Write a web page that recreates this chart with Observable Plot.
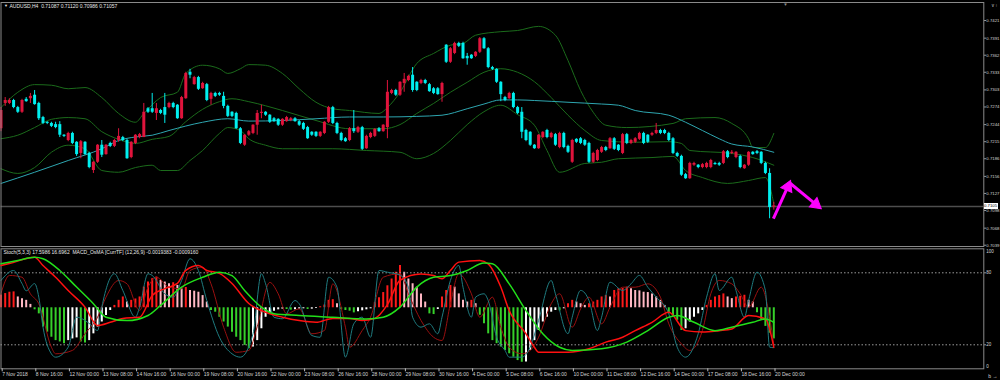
<!DOCTYPE html>
<html><head><meta charset="utf-8">
<script src="https://cdn.jsdelivr.net/npm/d3@7"></script>
<script src="https://cdn.jsdelivr.net/npm/@observablehq/plot@0.6"></script>
<style>
html,body{margin:0;padding:0;background:#000;}
#wrap{position:relative;width:1000px;height:380px;background:#000;overflow:hidden;}
#wrap svg{position:absolute;left:0;top:0;}
#cur{position:absolute;background:#fff;color:#000;font:4.3px "Liberation Sans",Arial,sans-serif;line-height:6px;height:6px;padding:0 0.5px;}
</style></head><body><div id="wrap"></div>
<script>
// ---------- DATA (prices in points: price x 10 000) ----------
const openPts = [7237,7280,7280,7285,7273,7265,7287,7288,7294,7280,
7256,7248,7246,7244,7244,7226,7217,7229,7214,7195,
7214,7195,7166,7180,7209,7193,7212,7207,7217,7222,
7217,7188,7212,7222,7222,7271,7271,7263,7268,7273,
7273,7280,7277,7254,7288,7333,7312,7324,7305,7312,
7287,7297,7297,7292,7275,7265,7263,7237,7209,7226,
7229,7243,7263,7265,7260,7254,7253,7243,7249,7251,
7254,7249,7246,7239,7231,7231,7224,7229,7248,7273,
7246,7229,7220,7217,7237,7231,7239,7203,7222,7224,
7237,7232,7239,7297,7302,7294,7314,7319,7328,7316,
7314,7319,7312,7305,7305,7295,7379,7350,7365,7382,
7382,7360,7362,7360,7367,7390,7373,7341,7338,7316,
7290,7288,7297,7273,7265,7234,7231,7209,7203,7222,
7234,7222,7227,7205,7229,7207,7180,7219,7220,7217,
7212,7180,7183,7197,7205,7203,7220,7209,7195,7227,
7212,7214,7219,7229,7226,7226,7229,7234,7234,7229,
7220,7195,7190,7159,7152,7175,7175,7171,7171,7171,
7178,7178,7178,7198,7195,7188,7190,7169,7175,7197,
7198,7197,7178,7161,7104];
const highPts = [7273,7290,7288,7287,7275,7287,7290,7297,7302,7282,
7258,7249,7248,7248,7249,7227,7231,7231,7215,7217,
7215,7197,7181,7210,7217,7210,7214,7219,7237,7224,
7219,7215,7227,7229,7280,7273,7297,7280,7270,7297,
7282,7282,7278,7292,7333,7338,7326,7326,7316,7314,
7299,7299,7299,7299,7277,7266,7265,7239,7227,7234,
7244,7268,7277,7266,7261,7256,7254,7254,7258,7256,
7256,7251,7248,7241,7232,7232,7232,7249,7275,7275,
7248,7231,7222,7239,7268,7241,7241,7226,7231,7237,
7239,7244,7319,7304,7304,7317,7331,7328,7341,7317,
7321,7321,7314,7307,7307,7316,7380,7375,7384,7384,
7384,7365,7363,7368,7392,7392,7375,7343,7339,7317,
7292,7299,7299,7275,7273,7236,7232,7210,7227,7232,
7236,7231,7229,7231,7231,7209,7219,7220,7222,7219,
7214,7197,7202,7207,7207,7222,7222,7210,7229,7229,
7219,7222,7231,7231,7227,7231,7246,7236,7236,7231,
7222,7197,7192,7161,7180,7180,7176,7178,7180,7185,
7180,7180,7200,7200,7200,7198,7192,7176,7198,7198,
7200,7198,7180,7169,7112];
const lowPts = [7232,7275,7278,7271,7263,7263,7282,7280,7277,7251,
7244,7244,7239,7237,7222,7222,7215,7210,7190,7186,
7192,7169,7161,7178,7188,7192,7205,7205,7214,7215,
7185,7186,7210,7220,7222,7263,7263,7251,7261,7246,
7271,7271,7253,7253,7287,7322,7311,7302,7304,7283,
7277,7290,7292,7271,7256,7256,7236,7210,7207,7224,
7227,7226,7254,7258,7246,7248,7241,7241,7248,7249,
7248,7241,7234,7219,7224,7222,7222,7227,7246,7244,
7227,7215,7214,7215,7229,7229,7200,7202,7220,7222,
7231,7231,7220,7295,7292,7292,7299,7317,7299,7300,
7312,7312,7299,7295,7294,7282,7348,7348,7363,7375,
7355,7345,7355,7358,7365,7372,7339,7336,7314,7283,
7283,7287,7271,7261,7220,7215,7207,7202,7202,7220,
7220,7220,7207,7203,7203,7195,7178,7212,7210,7207,
7178,7178,7181,7195,7198,7202,7200,7198,7193,7210,
7210,7212,7217,7210,7212,7224,7227,7227,7227,7215,
7193,7188,7156,7151,7151,7173,7169,7169,7169,7169,
7175,7173,7176,7186,7193,7186,7169,7168,7173,7192,
7193,7176,7159,7084,7098.6];
const closePts = [7268,7285,7285,7273,7265,7285,7283,7292,7278,7254,
7246,7246,7241,7239,7226,7224,7229,7212,7193,7215,
7193,7171,7180,7209,7192,7209,7207,7217,7224,7217,
7186,7214,7226,7227,7265,7265,7265,7271,7263,7260,
7280,7273,7254,7290,7331,7328,7324,7304,7314,7285,
7297,7292,7294,7275,7258,7258,7237,7212,7226,7232,
7243,7263,7265,7260,7248,7249,7243,7253,7256,7254,
7249,7243,7236,7220,7226,7224,7231,7248,7273,7246,
7229,7217,7215,7237,7232,7239,7202,7224,7229,7236,
7232,7243,7299,7302,7294,7316,7321,7326,7302,7302,
7319,7314,7300,7297,7295,7314,7350,7373,7382,7377,
7356,7356,7356,7367,7390,7373,7341,7338,7316,7295,
7285,7297,7273,7263,7231,7217,7209,7203,7226,7231,
7222,7229,7209,7229,7205,7197,7217,7214,7212,7209,
7180,7195,7200,7205,7200,7220,7202,7200,7227,7212,
7217,7220,7229,7212,7214,7229,7234,7229,7229,7217,
7195,7190,7158,7152,7178,7178,7171,7176,7178,7183,
7176,7175,7198,7188,7197,7197,7171,7175,7197,7193,
7195,7178,7161,7103,7105.7];
const currentPrice = 0.7105;

// Bollinger bands (20,2) and slow moving average, read at bar positions
const upperBar = [0,4,8,12,16,20,24,28,32,34,38,42,44,48,52,54,57,59,63,67,71,75,79,83,90,92,95,99,103,107,110,113,119,123,128,132,135,138,141,144,149,160,163,170,174,178,179,182,184];
const upperPts = [7273,7299,7312,7311,7305,7307,7290,7263,7248,7263,7290,7299,7331,7345,7339,7331,7339,7346,7345,7331,7305,7282,7271,7268,7263,7273,7299,7348,7365,7379,7382,7396,7402,7404,7411,7396,7353,7302,7265,7243,7239,7246,7254,7256,7246,7220,7205,7205,7229];
const middleBar = [0,4,8,12,16,20,24,28,32,36,40,44,48,52,55,59,67,75,83,91,95,99,103,107,111,115,119,123,127,131,135,139,143,151,159,162,164,174,179,184];
const middlePts = [7220,7226,7239,7253,7256,7254,7232,7219,7212,7219,7224,7249,7270,7283,7288,7283,7268,7251,7237,7237,7244,7263,7280,7299,7316,7333,7339,7333,7317,7290,7260,7234,7217,7214,7215,7212,7200,7195,7188,7175];
const lowerBar = [0,4,8,12,16,20,24,28,32,36,38,42,45,48,52,54,57,59,63,67,71,79,87,95,99,103,107,111,115,119,123,127,130,133,139,143,147,155,160,163,167,173,178,182,184];
const lowerPts = [7169,7161,7171,7197,7209,7203,7166,7163,7171,7175,7166,7166,7183,7200,7229,7239,7234,7220,7209,7203,7203,7203,7200,7197,7186,7195,7217,7244,7266,7277,7261,7243,7200,7163,7178,7180,7186,7188,7190,7166,7154,7144,7149,7154,7110];
const maBar = [0,8,16,24,28,32,36,40,48,54,59,67,75,83,91,99,105,111,115,119,123,127,135,143,147,151,159,163,167,171,174,179,184];
const maPts = [7144,7163,7183,7203,7217,7223,7226,7234,7248,7254,7250,7251,7254,7257,7257,7258,7260,7271,7279,7286,7286,7285,7282,7279,7277,7268,7260,7248,7234,7220,7211,7206,7197];

// Hand-drawn arrows (bar position, price)
const arrowX1 = [183.9, 187.6], arrowY1 = [0.7084, 0.7146];
const arrowX2 = [188.0, 195.3], arrowY2 = [0.7149, 0.7101];

// Price axis ticks
const priceTicks = [0.7421,0.7391,0.7362,0.7333,0.7303,0.7274,0.7244,0.7215,0.7186,0.7156,0.7127,0.7098,0.7068,0.7039];

// Time axis
const dateBars = [0,8,16,24,32,40,48,56,64,72,80,88,96,104,112,120,128,136,144,152,160,168,176,184];
const dateLabels = ["7 Nov 2018","8 Nov 16:00","12 Nov 00:00","13 Nov 08:00","14 Nov 16:00","16 Nov 00:00","19 Nov 08:00","20 Nov 16:00","22 Nov 00:00","23 Nov 08:00","26 Nov 16:00","28 Nov 00:00","29 Nov 08:00","30 Nov 16:00","4 Dec 00:00","5 Dec 08:00","6 Dec 16:00","10 Dec 00:00","11 Dec 08:00","12 Dec 16:00","14 Dec 00:00","17 Dec 08:00","18 Dec 16:00","20 Dec 00:00"];

// Stochastic (5,3,3)
const kBar = [0,3,5,6,8,9,10,12,13,16,18,21,23,24,27,29,32,33,35,36,39,41,43,45,47,49,52,55,57,60,62,63,65,67,70,71,74,76,78,80,82,84,86,88,90,92,95,97,98,100,102,104,105,107,109,110,112,113,115,116,118,120,121,124,126,128,131,132,135,136,138,140,142,143,145,148,150,152,154,156,159,161,163,166,168,170,171,174,175,177,178,180,182,183,184];
const kVal = [73.6,81.9,71,65,71,59.7,34.7,12.5,9.7,18,43,37.8,31.9,51.3,79.2,65.3,43,51.3,79.2,77.8,62.5,59.7,73.6,91.7,81.9,56.9,26.3,12.5,9.7,29.2,79.2,70.8,43,41.7,56.9,54.2,27.8,26.3,76.3,68,9.7,37.5,43,26.3,81.9,80.5,78,68,43,34.7,37.5,29.2,43,73.6,86.1,68,43,59.7,62.5,56.9,26.3,15.3,9.7,9.7,18,40.3,73.6,62.5,29.2,43,65.3,56.9,31.9,43,72.2,65.3,70.8,77.8,68,59.7,45.8,18,9.7,29.2,59.7,79.2,65.3,76.3,65.3,43,56.9,80.5,65.3,18,17.6];
const dBar = [0,2,5,7,9,12,13,17,20,23,25,28,30,33,35,37,40,43,45,48,50,53,56,59,61,64,66,68,71,74,77,79,82,83,86,88,91,95,97,100,103,105,107,109,112,114,117,119,121,124,126,128,131,133,136,138,140,143,145,148,151,154,157,159,162,164,167,169,171,174,176,178,181,183,184];
const dVal = [62.8,77.8,76.3,62.5,54.2,18,12.5,15.3,29.2,43,59.7,73.6,70.8,48.6,68,76.3,68,66.7,81.9,84.7,70.8,34.7,13.8,15.3,35,72,62.5,45.8,50,29.2,31.9,70.8,34.7,18,31.9,43,76.3,79.2,62.5,40.3,26.3,23.6,54.2,79.2,62.5,43,59.7,34.7,18,12.5,15.3,26.3,54.2,62.5,34.7,50,59.7,37.5,51.3,68,68,70.8,59.7,37.5,20.8,15.3,31.9,62.5,73.6,70.8,62.5,51.3,68,43,20];

// MACD OsMA (12,26,9): histogram and two lines, in pips (x 0.0001)
const osma = [3.8,4.2,4.6,4.7,3.2,2.7,2.2,1.0,
-0.6,-1.8,-5.7,-7.2,-8.7,-9.7,-10.1,-10.6,
-9.7,-9.2,-8.9,-10.1,-10.4,
-9.7,-7.7,-5.7,-4.2,-2.3,-0.8,
0.7,2.2,3.2,1.7,2.2,2.6,3.2,6.1,7.6,8.6,9.1,
8.1,7.6,7.1,7.4,6.6,5.6,6.0,5.1,4.9,4.6,3.6,1.7,
-0.8,-1.3,-2.8,-4.2,-5.7,-7.2,-8.7,-9.7,-11.1,-12.1,
-11.6,-9.7,-6.2,-2.8,-1.8,-1.0,-0.6,-0.4,
-0.5,-0.7,-0.6,-0.4,-0.3,-0.5,-0.4,-0.2,0.3,0.8,
2.2,2.4,1.2,
-0.5,-0.8,-1.0,
-1.5,-1.2,-0.9,-0.6,-0.3,
1.5,3.0,4.5,6.5,8.5,10.5,
12.5,
10.5,8.5,7.1,6.1,4.1,1.7,
-1.8,-2.0,-0.5,
3.2,5.1,6.6,
6.1,4.1,2.2,1.7,2.2,1.2,
-2.2,-4.7,-7.7,-9.7,-10.6,-11.6,-12.6,-13.6,-14.6,-15.6,-16.1,
-16.0,-12.6,-9.7,-6.7,-4.2,-2.8,-1.3,-0.8,
-0.9,-0.3,
1.2,2.2,1.7,1.2,0.7,1.2,1.7,2.2,3.2,3.6,3.2,
5.1,5.6,5.7,6.1,5.6,5.1,5.0,4.6,4.5,4.1,3.2,2.2,0.7,
-1.8,-2.8,-3.7,
-6.7,-6.2,-4.2,-2.8,-1.8,-0.8,
0.7,2.2,3.2,3.6,4.1,3.2,2.7,3.2,3.4,3.7,
2.2,1.7,
-1.5,-3.5,-5.5,-7.5,-9.2];
const macdBar = [0,2,8,10,13,16,20,23,26,29,33,36,39,42,44,47,49,52,55,59,63,67,71,75,79,83,86,89,92,95,100,103,105,107,109,114,116,119,121,125,127,128,135,140,144,148,151,155,159,163,167,171,174,178,182,184];
const macdVal = [14,14.8,17.4,14,9.2,3.8,-3,-10.5,-9.2,-7.6,-7.1,1.8,4.6,6.7,12,14,12,10.8,6.7,-1.5,-5.1,-7.1,-8.5,-9.2,-7.6,-7.6,-8.5,-7.6,-2,8,10.6,9.9,8.6,12,15.4,16.1,14.7,5.2,-4.4,-13.9,-19.4,-21.4,-21.4,-20,-17.3,-15.3,-12.6,-9.2,-5.1,-12.6,-13.2,-12.6,-11.9,-6.4,-7.8,-19.4];
const signalBar = [0,4,8,10,14,18,22,25,30,35,38,43,48,52,55,58,62,65,71,79,87,91,95,99,103,107,111,115,117,121,125,129,133,136,143,149,154,159,161,165,170,174,179,182,184];
const signalVal = [14.7,16.1,17.4,16.8,12,5.2,-1.6,-7.1,-8.5,-6.4,-2.3,5.2,9.2,11.3,9.9,3.8,-3,-5.7,-6.4,-7.1,-7.8,-7.1,-3,5.2,9.2,9.9,12,15,14.7,6.5,-4.4,-13.9,-19.4,-20.7,-20,-17.3,-12.6,-7.1,-6.4,-9.2,-12.6,-11.2,-9.2,-7.8,-9.2];

const headerTop = "AUDUSD,H4  0.71087 0.71120 0.70986 0.71057";
const headerLow = "Stoch(5,3,3) 17.5986 16.6962  MACD_OsMA [CurrTF] (12,26,9) -0.0019383 -0.0009160";

// ---------- BUILD ----------
const P = v => v / 10000;
const candles = openPts.map((o, i) => ({i, o: P(o), h: P(highPts[i]), l: P(lowPts[i]), c: P(closePts[i])}));
const RED = "#e0143c", CYAN = "#00efef";
const cCol = d => d.c >= d.o ? RED : CYAN;
const pts = (bars, vals, f = v => v) => bars.map((b, i) => ({b, v: f(vals[i])}));
const arrows = arrowX1.map((x, i) => ({x1: x, y1: arrowY1[i], x2: arrowX2[i], y2: arrowY2[i]}));

const FONT = "Liberation Sans, Arial, sans-serif";
const base = {
  width: 1000, height: 380, marginLeft: 0.5, marginRight: 16.7,
  style: {background: "transparent", color: "#d6d6d6", fontFamily: FONT, fontSize: "5px"},
  color: {type: "identity"}
};
const xDom = {domain: [0, 234], axis: null};
const yPrice = {domain: [0.70368, 0.74516], axis: null};
const GRID = "#8a8a8a";
const BAND = "#1b6b1b";
const MAGENTA = "#ff00ff";
const HEAD_R = 4.5;

const wrap = document.getElementById("wrap");

// ---- price panel ----
const pricePlot = Plot.plot({
  ...base, marginTop: 2, marginBottom: 134,
  x: xDom, y: yPrice,
  marks: [
    Plot.ruleY([currentPrice], {stroke: "#4e4e4e", strokeWidth: 1.5}),
    Plot.line(pts(upperBar, upperPts, P), {x: "b", y: "v", stroke: BAND, strokeWidth: 1, curve: "monotone-x"}),
    Plot.line(pts(middleBar, middlePts, P), {x: "b", y: "v", stroke: BAND, strokeWidth: 1, curve: "monotone-x"}),
    Plot.line(pts(lowerBar, lowerPts, P), {x: "b", y: "v", stroke: BAND, strokeWidth: 1, curve: "monotone-x"}),
    Plot.line(pts(maBar, maPts, P), {x: "b", y: "v", stroke: "#2ea6b0", strokeWidth: 1, curve: "monotone-x"}),
    Plot.ruleX(candles, {x: "i", y1: "l", y2: "h", stroke: cCol, strokeWidth: 1}),
    Plot.ruleX(candles, {x: "i", y1: "o", y2: "c", stroke: cCol, strokeWidth: 3}),
    Plot.frame({stroke: GRID}),
    Plot.axisY(priceTicks, {anchor: "right", tickSize: 1.5, tickPadding: 1, tickFormat: d => d.toFixed(4), fontSize: 4.3, stroke: "#bdbdbd", fill: "#d6d6d6"}),
    Plot.text(["\u25BC"], {frameAnchor: "top-left", dx: 3, dy: 2, lineAnchor: "top", fontSize: 4, fill: "#e8e8e8"}),
    Plot.text([headerTop], {frameAnchor: "top-left", dx: 8.5, dy: 2, lineAnchor: "top", textAnchor: "start", fontSize: 5, fill: "#e8e8e8"}),
    Plot.text(["\u25BC"], {x: () => 186.8, frameAnchor: "top", dy: 0.5, lineAnchor: "top", fontSize: 4.5, fill: "#8a8a8a"})
  ]
});
wrap.appendChild(pricePlot);

// magenta arrows: shaft plus filled head whose tip sits on the arrow end,
// oriented and placed with the plot's own scales
const sx = pricePlot.scale("x"), sy = pricePlot.scale("y");
const tipOffset = 2 * Math.sqrt(Math.PI * HEAD_R * HEAD_R / (Math.sqrt(3) * 3));
const heads = arrows.map(a => {
  const X1 = sx.apply(a.x1), Y1 = sy.apply(a.y1), X2 = sx.apply(a.x2), Y2 = sy.apply(a.y2);
  const len = Math.hypot(X2 - X1, Y2 - Y1), ux = (X2 - X1) / len, uy = (Y2 - Y1) / len;
  return {
    x: sx.invert(X2 - ux * tipOffset), y: sy.invert(Y2 - uy * tipOffset),
    rot: Math.atan2(ux, -uy) * 180 / Math.PI
  };
});
const headPlot = Plot.plot({
  ...base, marginTop: 2, marginBottom: 134,
  x: xDom, y: yPrice,
  marks: [
    Plot.link(arrows, {x1: "x1", y1: "y1", x2: (d, i) => heads[i].x, y2: (d, i) => heads[i].y, stroke: MAGENTA, strokeWidth: 3}),
    Plot.dot(heads, {x: "x", y: "y", rotate: "rot", symbol: "triangle", r: HEAD_R, fill: MAGENTA, stroke: MAGENTA, strokeWidth: 1})
  ]
});
wrap.appendChild(headPlot);

// ---- lower panel: histogram layer ----
const hist = osma.map((v, i) => {
  const p = i > 0 ? osma[i - 1] : v;
  const col = v >= 0 ? (v >= p ? "#ff1a1a" : "#ffb8c4") : (v <= p ? "#36d02a" : "#ffffff");
  return {i, v, col};
});
const lowA = Plot.plot({
  ...base, marginTop: 248.3, marginBottom: 11.7,
  x: xDom,
  y: {domain: [-18.03, 17.43], axis: null},
  marks: [
    Plot.ruleX(hist, {x: "i", y1: 0, y2: "v", stroke: "col", strokeWidth: 2})
  ]
});
wrap.appendChild(lowA);

// ---- lower panel: stochastic layer with frame and axes ----
const lowB = Plot.plot({
  ...base, marginTop: 248.3, marginBottom: 11.7,
  x: xDom,
  y: {domain: [0, 100], axis: null},
  marks: [
    Plot.ruleY([80, 20], {stroke: "#9a9a9a", strokeDasharray: "1.5,2", strokeWidth: 1}),
    Plot.line(pts(dBar, dVal), {x: "b", y: "v", stroke: "#9a1010", strokeWidth: 1, curve: "monotone-x"}),
    Plot.line(pts(kBar, kVal), {x: "b", y: "v", stroke: "#1f7c80", strokeWidth: 1, curve: "monotone-x"}),
    Plot.frame({stroke: GRID}),
    Plot.axisY([80, 20], {anchor: "right", tickSize: 1.5, tickPadding: 1, fontSize: 4.5, stroke: "#bdbdbd", fill: "#d6d6d6"}),
    Plot.text(["100"], {frameAnchor: "top-right", dx: 2.5, dy: 1, lineAnchor: "top", textAnchor: "start", fontSize: 4.5, fill: "#d6d6d6"}),
    Plot.text(["0"], {frameAnchor: "bottom-right", dx: 2.5, dy: -0.5, lineAnchor: "bottom", textAnchor: "start", fontSize: 4.5, fill: "#d6d6d6"}),
    Plot.axisX(dateBars, {anchor: "bottom", tickSize: 3, tickPadding: 1, textAnchor: "start", dx: 1.2, fontSize: 5,
      tickFormat: d => dateLabels[dateBars.indexOf(d)], stroke: "#bdbdbd", fill: "#d6d6d6"}),
    Plot.text([headerLow], {frameAnchor: "top-left", dx: 2.5, dy: 2, lineAnchor: "top", textAnchor: "start", fontSize: 5, fill: "#e8e8e8"})
  ]
});
wrap.appendChild(lowB);

// ---- lower panel: MACD lines layer ----
const lowC = Plot.plot({
  ...base, marginTop: 248.3, marginBottom: 11.7,
  x: xDom,
  y: {domain: [-28.2, 20.85], axis: null},
  marks: [
    Plot.line(pts(macdBar, macdVal), {x: "b", y: "v", stroke: "#ff1010", strokeWidth: 1.5, curve: "monotone-x"}),
    Plot.line(pts(signalBar, signalVal), {x: "b", y: "v", stroke: "#22e01a", strokeWidth: 1.5, curve: "monotone-x"})
  ]
});
wrap.appendChild(lowC);

// current price label on the price axis
const cur = document.createElement("div");
cur.id = "cur";
cur.textContent = currentPrice.toFixed(4);
cur.style.left = "983.5px";
cur.style.top = (sy.apply(currentPrice) - 3) + "px";
wrap.appendChild(cur);
</script></body></html>
